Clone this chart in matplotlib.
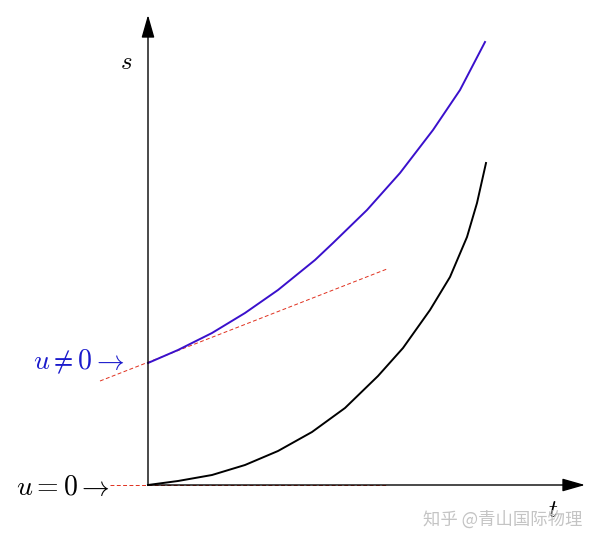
import matplotlib
matplotlib.use('Agg')
import matplotlib.pyplot as plt

plt.rcParams['mathtext.fontset'] = 'cm'

# blue curve (u != 0); origin at the axes crossing
blue_t = [0, 30, 64, 97, 130, 167, 185, 219, 252, 285, 312, 337]
blue_s = [122, 135, 152, 172, 195, 225, 242, 275, 312, 355, 395, 443]

# black curve (u = 0)
black_t = [0, 30, 64, 97, 130, 164, 197, 230, 255, 282, 302, 319, 329, 338]
black_s = [0, 4, 10, 20, 34, 53, 77, 109, 137, 175, 208, 248, 282, 322]

# red dashed tangents
tan1_t = [-48, 239]
tan1_s = [104, 216]
tan0_t = [-38, 240]
tan0_s = [0, 0]

fig = plt.figure(figsize=(5.99, 5.45), dpi=100)
ax = fig.add_axes([0, 0, 1, 1])
ax.set_xlim(-148, 451)
ax.set_ylim(-60, 485)
ax.axis('off')

# axes with arrow heads
arr = dict(arrowstyle='-|>,head_length=14,head_width=4', color='black',
           lw=1.0, shrinkA=0, shrinkB=0, mutation_scale=1)
ax.annotate('', xy=(437, 0), xytext=(0, 0), arrowprops=arr)
ax.annotate('', xy=(0, 470), xytext=(0, 0), arrowprops=arr)

ax.plot(tan1_t, tan1_s, color='#e0301e', lw=0.7, ls=(0, (4, 2.5)))
ax.plot(tan0_t, tan0_s, color='#e0301e', lw=0.7, ls=(0, (4, 2.5)))
ax.plot(blue_t, blue_s, color='#3a10cc', lw=1.4)
ax.plot(black_t, black_s, color='black', lw=1.4)

ax.text(-23, 123, r'$u \neq 0 \rightarrow$', color='#1a1acc', fontsize=20,
        ha='right', va='center')
ax.text(-38, -2, r'$u = 0 \rightarrow$', color='black', fontsize=20,
        ha='right', va='center')
ax.text(-22, 423, r'$s$', fontsize=18, ha='center', va='center')
ax.text(405, -25, r'$t$', fontsize=18, ha='center', va='center')

ax.text(355, -35, '知乎 @青山国际物理', color='#c4c4c4', fontsize=12.5,
        family=['Noto Sans CJK SC', 'DejaVu Sans'], ha='center', va='center')

plt.savefig('out.png', dpi=100)
